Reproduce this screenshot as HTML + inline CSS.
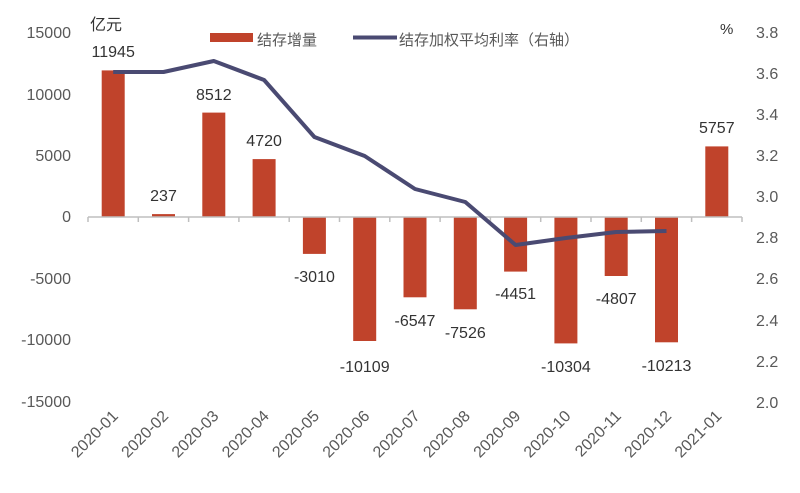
<!DOCTYPE html>
<html><head><meta charset="utf-8"><style>
html,body{margin:0;padding:0;background:#fff;}
svg{display:block;font-family:"Liberation Sans","Noto Sans CJK SC",sans-serif;}
</style></head><body>
<svg width="800" height="493" viewBox="0 0 800 493" xmlns="http://www.w3.org/2000/svg">
<g fill="#595959" font-size="16" text-anchor="end">
<text x="71" y="38">15000</text>
<text x="71" y="100">10000</text>
<text x="71" y="161">5000</text>
<text x="71" y="222">0</text>
<text x="71" y="284">-5000</text>
<text x="71" y="345">-10000</text>
<text x="71" y="407">-15000</text>
</g>
<g fill="#595959" font-size="16" text-anchor="start">
<text x="756" y="38">3.8</text>
<text x="756" y="79">3.6</text>
<text x="756" y="120">3.4</text>
<text x="756" y="161">3.2</text>
<text x="756" y="202">3.0</text>
<text x="756" y="243">2.8</text>
<text x="756" y="284">2.6</text>
<text x="756" y="326">2.4</text>
<text x="756" y="367">2.2</text>
<text x="756" y="408">2.0</text>
</g>
<text x="90" y="30" font-size="16" fill="#333">亿元</text>
<text x="720" y="34" font-size="15" fill="#333">%</text>
<rect x="210" y="33" width="43" height="9" fill="#c0432b"/>
<text x="257" y="45" font-size="15" fill="#595959">结存增量</text>
<line x1="353" y1="37.5" x2="397" y2="37.5" stroke="#4a4a72" stroke-width="4"/>
<text x="399" y="45" font-size="15" fill="#595959">结存加权平均利率（右轴）</text>
<g fill="#c0432b">
<rect x="101.7" y="70.4" width="23" height="146.6"/>
<rect x="152" y="214.1" width="23" height="2.9"/>
<rect x="202.3" y="112.6" width="23" height="104.4"/>
<rect x="252.6" y="159.1" width="23" height="57.9"/>
<rect x="302.9" y="217" width="23" height="36.9"/>
<rect x="353.2" y="217" width="23" height="124"/>
<rect x="403.5" y="217" width="23" height="80.3"/>
<rect x="453.8" y="217" width="23" height="92.3"/>
<rect x="504.1" y="217" width="23" height="54.6"/>
<rect x="554.4" y="217" width="23" height="126.4"/>
<rect x="604.7" y="217" width="23" height="59"/>
<rect x="655" y="217" width="23" height="125.3"/>
<rect x="705.3" y="146.4" width="23" height="70.6"/>
</g>
<line x1="88" y1="217" x2="742" y2="217" stroke="#bfbfbf" stroke-width="1.5"/>
<g stroke="#bfbfbf" stroke-width="1.5">
<line x1="88" y1="217" x2="88" y2="222"/><line x1="138.3" y1="217" x2="138.3" y2="222"/><line x1="188.6" y1="217" x2="188.6" y2="222"/><line x1="238.9" y1="217" x2="238.9" y2="222"/><line x1="289.2" y1="217" x2="289.2" y2="222"/><line x1="339.5" y1="217" x2="339.5" y2="222"/><line x1="389.8" y1="217" x2="389.8" y2="222"/><line x1="440.1" y1="217" x2="440.1" y2="222"/><line x1="490.4" y1="217" x2="490.4" y2="222"/><line x1="540.7" y1="217" x2="540.7" y2="222"/><line x1="591" y1="217" x2="591" y2="222"/><line x1="641.3" y1="217" x2="641.3" y2="222"/><line x1="691.6" y1="217" x2="691.6" y2="222"/><line x1="742" y1="217" x2="742" y2="222"/>
</g>
<polyline fill="none" stroke="#4a4a72" stroke-width="4" stroke-linejoin="round" points="113.2,72 163.5,72 213.8,61 264.1,80 314.4,137 364.7,156 415,189 465.3,202 515.6,245 565.9,238 616.2,232 666.5,231"/>
<g fill="#333" font-size="16" text-anchor="middle">
<text x="113.2" y="57">11945</text>
<text x="163.5" y="201">237</text>
<text x="213.8" y="100">8512</text>
<text x="264.1" y="146">4720</text>
<text x="314.4" y="282">-3010</text>
<text x="364.7" y="372">-10109</text>
<text x="415" y="326">-6547</text>
<text x="465.3" y="338">-7526</text>
<text x="515.6" y="299">-4451</text>
<text x="565.9" y="372">-10304</text>
<text x="616.2" y="304">-4807</text>
<text x="666.5" y="371">-10213</text>
<text x="716.8" y="133">5757</text>
</g>
<g fill="#595959" font-size="16" text-anchor="end">
<text transform="translate(119,417) rotate(-45)">2020-01</text>
<text transform="translate(169.3,417) rotate(-45)">2020-02</text>
<text transform="translate(219.6,417) rotate(-45)">2020-03</text>
<text transform="translate(269.9,417) rotate(-45)">2020-04</text>
<text transform="translate(320.2,417) rotate(-45)">2020-05</text>
<text transform="translate(370.5,417) rotate(-45)">2020-06</text>
<text transform="translate(420.8,417) rotate(-45)">2020-07</text>
<text transform="translate(471.1,417) rotate(-45)">2020-08</text>
<text transform="translate(521.4,417) rotate(-45)">2020-09</text>
<text transform="translate(571.7,417) rotate(-45)">2020-10</text>
<text transform="translate(622,417) rotate(-45)">2020-11</text>
<text transform="translate(672.3,417) rotate(-45)">2020-12</text>
<text transform="translate(722.6,417) rotate(-45)">2021-01</text>
</g>
</svg>
</body></html>
